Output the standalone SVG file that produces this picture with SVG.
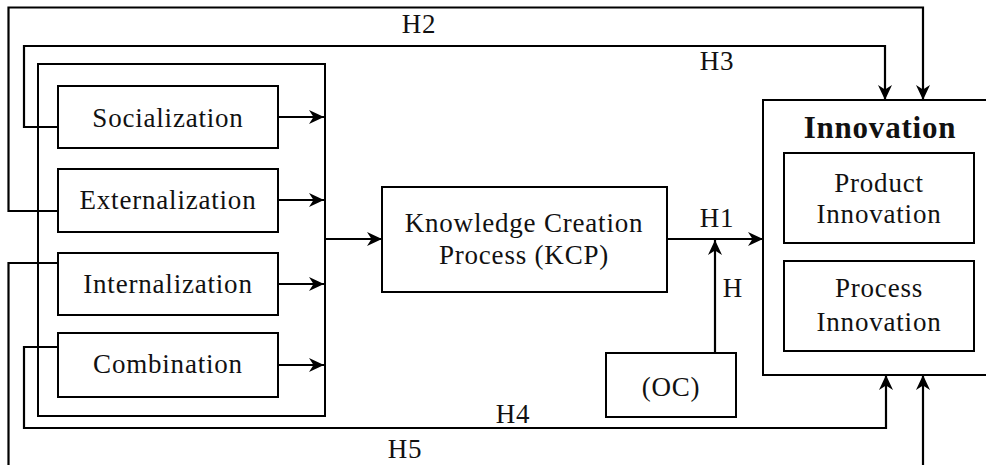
<svg xmlns="http://www.w3.org/2000/svg" width="986" height="465" viewBox="0 0 986 465">
<style>
.box{fill:#fff;stroke:#000;stroke-width:2}
.frame{fill:none;stroke:#000;stroke-width:2}
.t{font-family:"Liberation Serif","DejaVu Serif",serif;font-size:27px;fill:#111;text-anchor:middle;letter-spacing:0.8px}
.tb{font-family:"Liberation Serif","DejaVu Serif",serif;font-size:31px;font-weight:bold;fill:#111;text-anchor:middle;letter-spacing:0.8px}
.c{fill:none;stroke:#000;stroke-width:2.2}
</style>
<defs>
<marker id="ah" markerUnits="userSpaceOnUse" markerWidth="16" markerHeight="16" viewBox="0 0 16 16" refX="15" refY="8" orient="auto">
<path d="M0,1 L15,8 L0,15 L4.5,8 z" fill="#000"/>
</marker>
</defs>
<rect width="986" height="465" fill="#fff"/>
<g id="container"><rect class="frame" x="38" y="64" width="287" height="352"/></g>
<g id="socialization"><rect class="box" x="58" y="86" width="220" height="62"/><text class="t" x="168" y="127">Socialization</text></g>
<g id="externalization"><rect class="box" x="58" y="169" width="220" height="63"/><text class="t" x="168" y="209">Externalization</text></g>
<g id="internalization"><rect class="box" x="58" y="253" width="220" height="62"/><text class="t" x="168" y="293">Internalization</text></g>
<g id="combination"><rect class="box" x="58" y="333" width="220" height="64"/><text class="t" x="168" y="373">Combination</text></g>
<g id="kcp"><rect class="box" x="382" y="187" width="285" height="105"/><text class="t" x="524" y="232">Knowledge Creation</text><text class="t" x="524" y="264">Process (KCP)</text></g>
<g id="oc"><rect class="box" x="606" y="353" width="130" height="64"/><text class="t" x="671" y="396">(OC)</text></g>
<g id="innovation"><rect class="box" x="763" y="100" width="240" height="275"/><text class="tb" x="880" y="138">Innovation</text>
<g id="product"><rect class="box" x="784" y="153" width="190" height="90"/><text class="t" x="879" y="192">Product</text><text class="t" x="879" y="223">Innovation</text></g>
<g id="process"><rect class="box" x="784" y="261" width="190" height="90"/><text class="t" x="879" y="297">Process</text><text class="t" x="879" y="331">Innovation</text></g>
</g>
<g id="connectors">
<path class="c" d="M278,117 H324" marker-end="url(#ah)"/>
<path class="c" d="M278,200 H324" marker-end="url(#ah)"/>
<path class="c" d="M278,284 H324" marker-end="url(#ah)"/>
<path class="c" d="M278,365 H324" marker-end="url(#ah)"/>
<path class="c" d="M325,239 H382" marker-end="url(#ah)"/>
<path class="c" d="M667,239 H763" marker-end="url(#ah)"/>
<path class="c" d="M715,353 V240" marker-end="url(#ah)"/>
<path class="c" d="M58,211 H8.5 V7.5 H923 V100" marker-end="url(#ah)"/>
<path class="c" d="M58,127 H24 V46 H885 V100" marker-end="url(#ah)"/>
<path class="c" d="M58,347 H24 V428 H886 V375" marker-end="url(#ah)"/>
<path class="c" d="M58,263 H8.5 V470"/>
<path class="c" d="M923,470 V375" marker-end="url(#ah)"/>
<g class="t">
<text x="419" y="33">H2</text>
<text x="717" y="70">H3</text>
<text x="717" y="227">H1</text>
<text x="733" y="297">H</text>
<text x="513" y="423">H4</text>
<text x="405" y="458">H5</text>
</g>
</g>
</svg>
